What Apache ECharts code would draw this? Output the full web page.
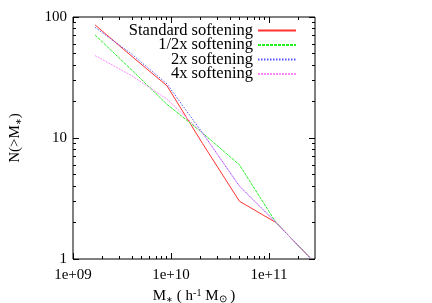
<!DOCTYPE html>
<html><head><meta charset="utf-8">
<script src="https://cdn.jsdelivr.net/npm/echarts@6/dist/echarts.min.js"></script>
<style>html,body{margin:0;padding:0;background:#fff}#c{width:432px;height:303px}</style>
</head><body><div id="c"></div>
<script>
const mass = [1.68e9, 3.9e9, 9.1e9, 2.1e10, 5.0e10, 1.18e11, 2.7e11];
const standard = [86, 48, 27, 9, 3, 2, 1];
const half = [71, 37, 19, 11, 6, 2, 1];
const twox = [82, 50, 28, 11, 4, 2, 1];
const fourx = [48, 33, 21, 11, 4, 2, 1];
const seriesNames = ['Standard softening', '1/2x softening', '2x softening', '4x softening'];
const xMajor = [1e9, 1e10, 1e11];
const xMinor = [2e9,3e9,4e9,5e9,6e9,7e9,8e9,9e9,2e10,3e10,4e10,5e10,6e10,7e10,8e10,9e10,2e11];
const yMajor = [1, 10, 100];
const yMinor = [2,3,4,5,6,7,8,9,20,30,40,50,60,70,80,90];
const xLabels = {1e9:'1e+09', 1e10:'1e+10', 1e11:'1e+11'};

const FONT = 'Liberation Serif';
const XMIN = 1e9, XMAX = 2.95e11, YMIN = 1, YMAX = 100;

function mk(arr){ return mass.map((m,i)=>[m, arr[i]]); }

function xAx(pos, vals, len, labels){
  return {type:'log', logBase:10, min:XMIN, max:XMAX, position:pos, gridIndex:0,
    axisLine:{show:false}, splitLine:{show:false},
    axisTick:{show:true, inside:true, length:len, customValues:vals, lineStyle:{color:'#000', width:1}},
    axisLabel:{show:labels, customValues:xMajor, formatter:v=>xLabels[v]||'', fontFamily:FONT, fontSize:15, color:'#000', margin:9}};
}
function yAx(pos, vals, len, labels){
  return {type:'log', logBase:10, min:YMIN, max:YMAX, position:pos, gridIndex:0,
    axisLine:{show:false}, splitLine:{show:false},
    axisTick:{show:true, inside:true, length:len, customValues:vals, lineStyle:{color:'#000', width:1}},
    axisLabel:{show:labels, customValues:yMajor, formatter:v=>String(Math.round(v)), fontFamily:FONT, fontSize:15, color:'#000', margin:6}};
}

const xa = [xAx('bottom', xMajor, 6, true), xAx('bottom', xMinor, 3, false), xAx('top', xMajor, 6, false), xAx('top', xMinor, 3, false)];
Object.assign(xa[0], {name:'{a|M}{s|∗}{a| ( h}{p|-1}{a| M}{b|⊙}{a| )}', nameLocation:'middle', nameGap:28,
  nameTextStyle:{fontFamily:FONT, fontSize:15, color:'#000', rich:{
    a:{fontFamily:FONT, fontSize:15, color:'#000', lineHeight:16},
    s:{fontFamily:FONT, fontSize:8, color:'#000', verticalAlign:'bottom', lineHeight:14},
    p:{fontFamily:FONT, fontSize:10, color:'#000', verticalAlign:'top', lineHeight:16},
    b:{fontFamily:FONT, fontSize:10, color:'#000', verticalAlign:'bottom', lineHeight:10}}}});
const ya = [yAx('left', yMajor, 6, true), yAx('left', yMinor, 3, false), yAx('right', yMajor, 6, false), yAx('right', yMinor, 3, false)];
Object.assign(ya[0], {name:'{a|N(>M}{s|∗}{a|)}', nameLocation:'middle', nameGap:50, nameRotate:90,
  nameTextStyle:{fontFamily:FONT, fontSize:15, color:'#000', rich:{
    a:{fontFamily:FONT, fontSize:15, color:'#000'},
    s:{fontFamily:FONT, fontSize:8, color:'#000', verticalAlign:'bottom', lineHeight:12}}}});

const styles = [
  {color:'#ff3333', type:'solid'},
  {color:'#22ee22', type:[3,1]},
  {color:'#5555ff', type:[1.5,1.5]},
  {color:'#ff88ff', type:[2,1]}
];
const datas = [standard, half, twox, fourx];

const chart = echarts.init(document.getElementById('c'), null, {renderer:'canvas'});
chart.setOption({
  animation:false,
  backgroundColor:'#fff',
  grid:{left:73, right:117, top:17, bottom:44, show:true, borderColor:'#000', borderWidth:1, backgroundColor:'transparent',
    containLabel:false, outerBoundsMode:'none'},
  xAxis: xa,
  yAxis: ya,
  legend:{orient:'vertical', right:130, top:17, align:'right', itemGap:-2.5, itemWidth:38, itemHeight:10,
    itemStyle:{opacity:0},
    textStyle:{fontFamily:FONT, fontSize:16.5, color:'#000', padding:[0,0,0,0]},
    data: seriesNames.map(n=>({name:n}))},
  series: seriesNames.map((n,i)=>({name:n, type:'line', xAxisIndex:0, yAxisIndex:0, symbol:'none',
    data: mk(datas[i]), lineStyle:{width:1, color:styles[i].color, type:styles[i].type},
    itemStyle:{color:styles[i].color}}))
});
</script></body></html>
